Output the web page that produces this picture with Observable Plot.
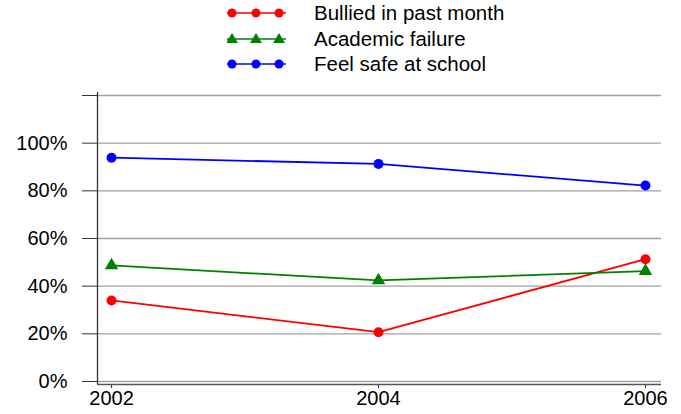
<!DOCTYPE html>
<html>
<head>
<meta charset="utf-8">
<script src="https://cdn.jsdelivr.net/npm/d3@7"></script>
<script src="https://cdn.jsdelivr.net/npm/@observablehq/plot@0.6"></script>
<style>
  html, body { margin: 0; padding: 0; background: #fff; }
  body { width: 681px; height: 414px; overflow: hidden; font-family: "Liberation Sans", Arial, sans-serif; }
  #legend { position: relative; height: 80px; }
  .row { position: absolute; left: 227px; height: 24px; display: flex; align-items: center; }
  .row span { position: absolute; left: 87px; font-size: 20.5px; color: #000; white-space: nowrap; }
  svg.plot { display: block; }
</style>
</head>
<body>
<div id="legend"></div>
<div id="chart"></div>
<script>
const years = [2002, 2004, 2006];
const seriesNames = ["Bullied in past month", "Academic failure", "Feel safe at school"];
const bullied = [34.0, 20.7, 51.3];
const academic = [48.7, 42.4, 46.3];
const feelSafe = [93.9, 91.3, 82.2];
const yTicks = [0, 20, 40, 60, 80, 100, 120];

const colors = ["#ff0000", "#008000", "#0000ff"];
const symbols = ["circle", "triangle", "circle"];
const values = [bullied, academic, feelSafe];

const data = [];
seriesNames.forEach((s, i) => years.forEach((y, j) => data.push({series: s, year: y, value: values[i][j]})));

// Legend
const legend = document.getElementById("legend");
const rowTops = [1, 27, 52];
seriesNames.forEach((s, i) => {
  const row = document.createElement("div");
  row.className = "row";
  row.style.top = rowTops[i] + "px";
  const sym = symbols[i] === "triangle"
    ? [5, 29, 52].map(cx => `<polygon points="${cx},${12-6} ${cx+6},${12+4} ${cx-6},${12+4}" fill="${colors[i]}"/>`).join("")
    : [5, 29, 52].map(cx => `<circle cx="${cx}" cy="12" r="4.5" fill="${colors[i]}"/>`).join("");
  row.innerHTML = `<svg width="60" height="24"><line x1="0" x2="59" y1="12" y2="12" stroke="${colors[i]}" stroke-width="1.5"/>${sym}</svg><span>${s}</span>`;
  legend.appendChild(row);
});

const chart = Plot.plot({
  width: 681,
  height: 334,
  marginTop: 15,
  marginBottom: 30,
  marginLeft: 97,
  marginRight: 20,
  style: {fontFamily: "Liberation Sans, Arial, sans-serif", fontSize: "20px", color: "#000", background: "#fff"},
  x: {domain: [2001.895, 2006.12]},
  y: {domain: [-1.26, 120]},
  color: {domain: seriesNames, range: colors},
  symbol: {domain: seriesNames, range: symbols},
  marks: [
    Plot.ruleY(yTicks, {stroke: "#a0a0a0", strokeWidth: 1.3, strokeOpacity: 1}),
    Plot.axisY({ticks: yTicks, tickFormat: d => d === 120 ? "" : d + "%", tickSize: 15, tickPadding: 15, stroke: "#333", strokeOpacity: 1, fontSize: 20, label: null}),
    Plot.axisX({ticks: years, tickFormat: d => String(d), tickSize: 4, tickPadding: 2, stroke: "#333", strokeOpacity: 1, fontSize: 20, label: null}),
    Plot.ruleY([-1.26], {stroke: "#555", strokeWidth: 1.3}),
    Plot.ruleX([2001.895], {y1: -1.26, y2: 121.3, stroke: "#333", strokeWidth: 1.3}),
    Plot.line(data, {x: "year", y: "value", z: "series", stroke: "series", strokeWidth: 1.8}),
    Plot.dot(data.filter(d => d.series !== "Academic failure"), {x: "year", y: "value", fill: "series", r: 5, stroke: "none"}),
    Plot.dot(data.filter(d => d.series === "Academic failure"), {x: "year", y: "value", fill: "series", symbol: "triangle", r: 5, stroke: "none"})
  ]
});
document.getElementById("chart").appendChild(chart);
</script>
</body>
</html>
